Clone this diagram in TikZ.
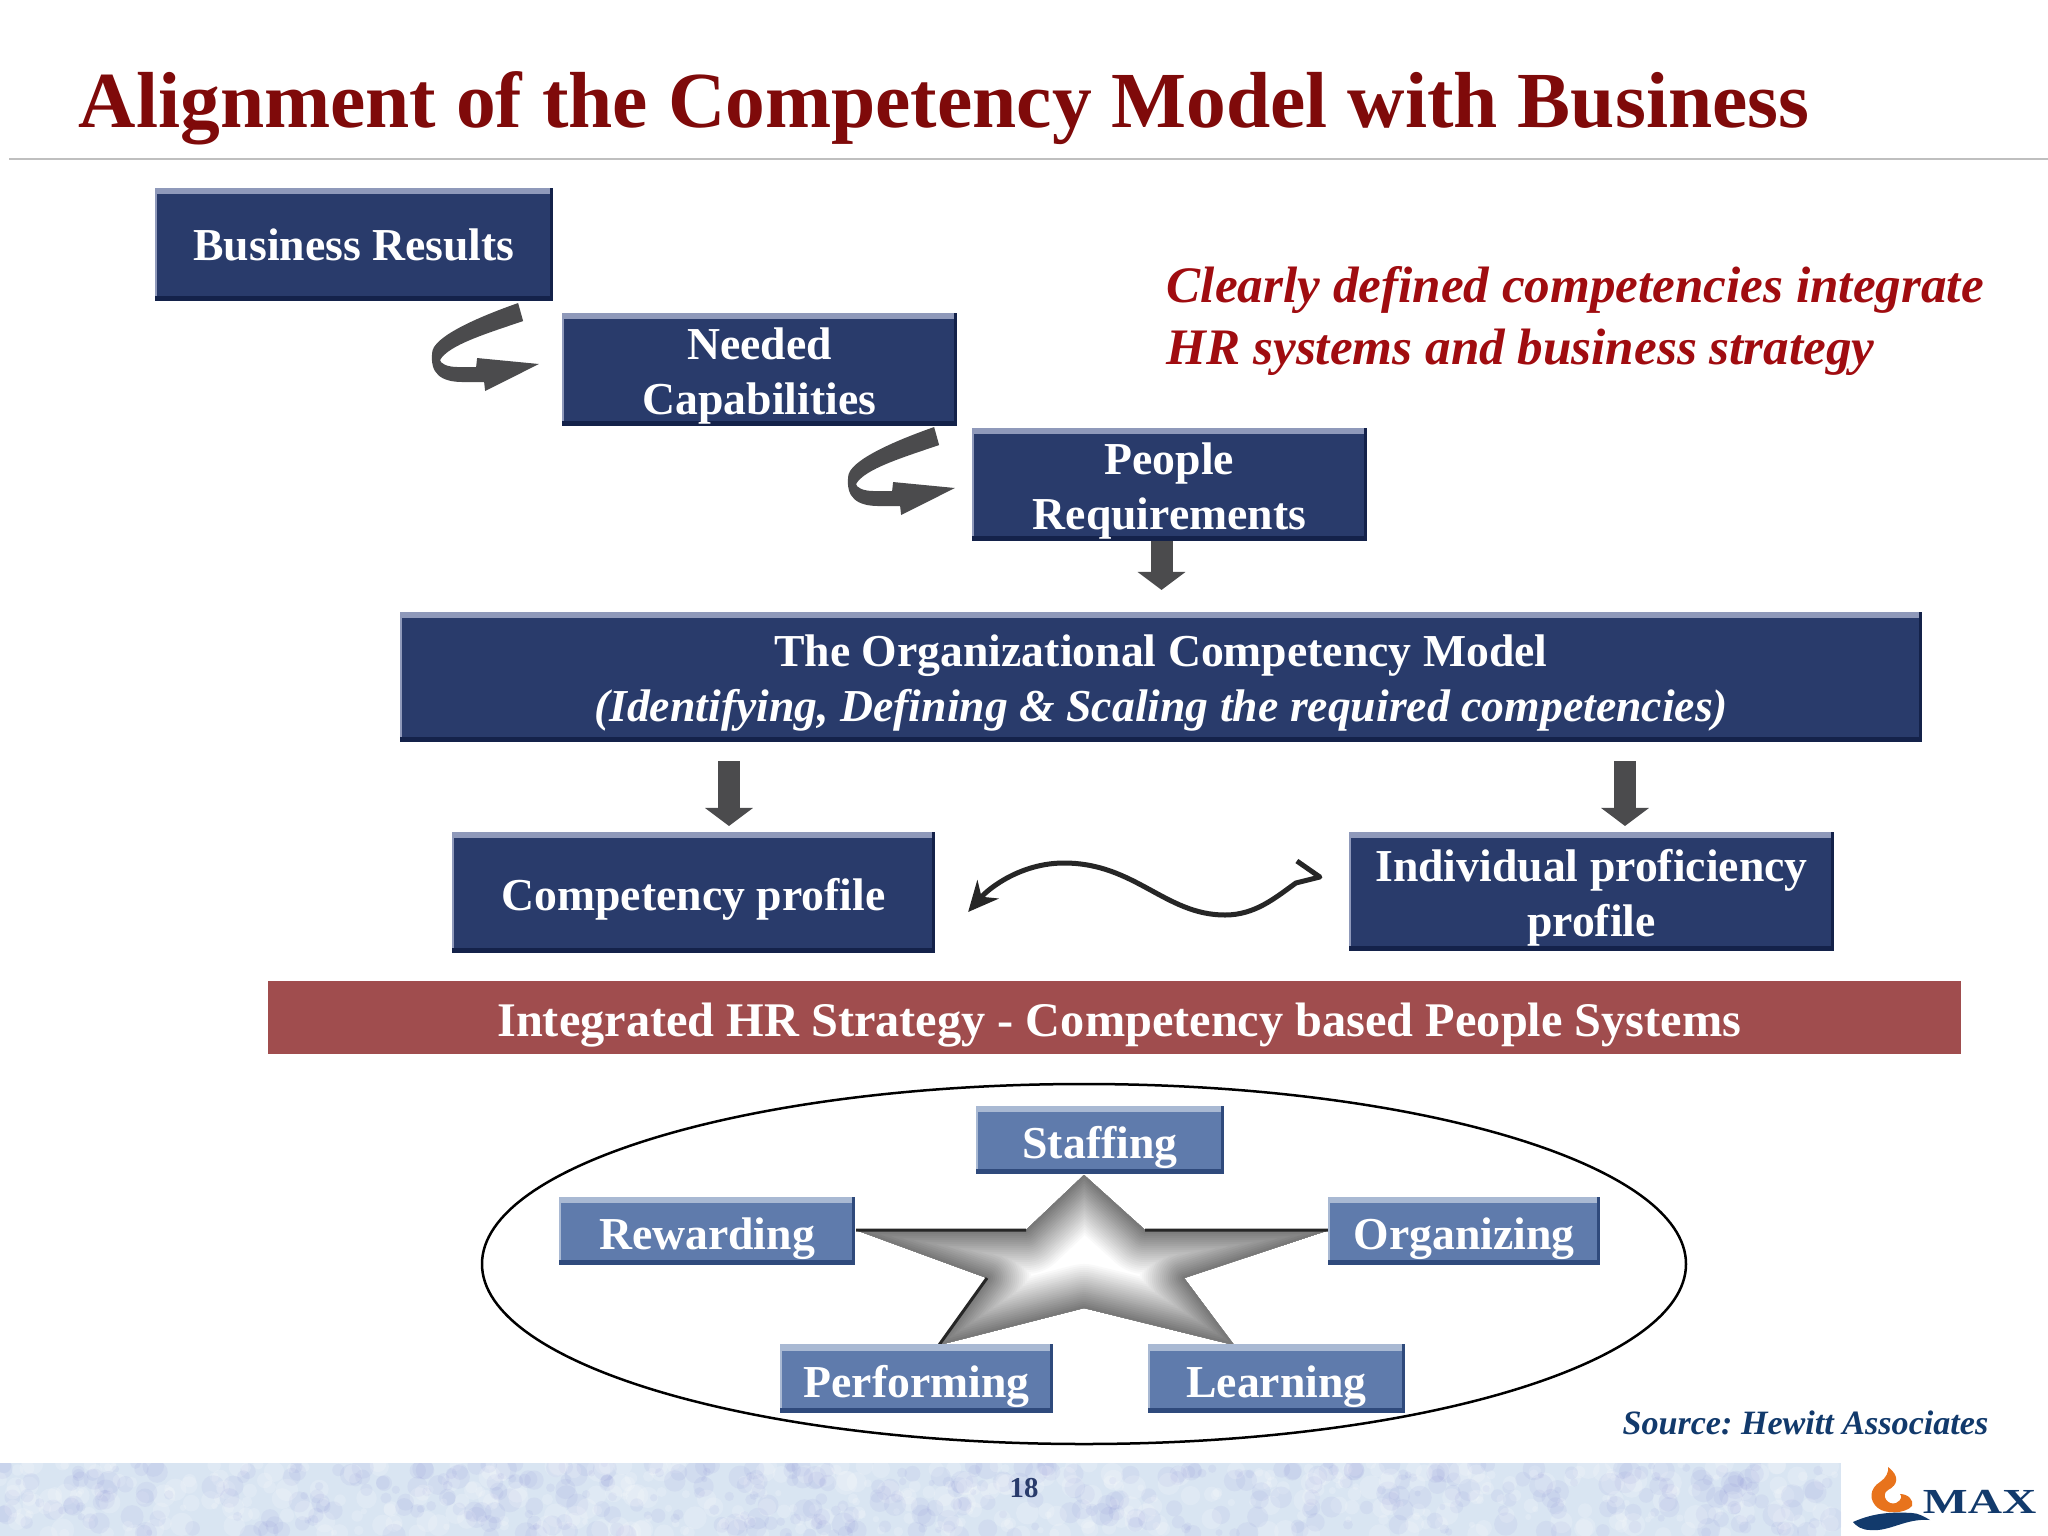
\documentclass[tikz,border=0pt]{standalone}
\usepackage{fontspec}
\setmainfont{Liberation Serif}
\usepackage{xcolor}
\usetikzlibrary{arrows.meta}
\usetikzlibrary{calc}

\definecolor{titlered}{HTML}{7F0A0A}
\definecolor{quotered}{HTML}{A00C10}
\definecolor{navy}{HTML}{293B6B}
\definecolor{navylight}{HTML}{8F99BA}
\definecolor{navydark}{HTML}{14224A}
\definecolor{steel}{HTML}{5F7BAC}
\definecolor{steellight}{HTML}{A9B9D3}
\definecolor{steeldark}{HTML}{2F4A7C}
\definecolor{barred}{HTML}{A04D4E}
\definecolor{arrowgrey}{HTML}{4B4B4D}
\definecolor{footblue}{HTML}{D9E5F2}
\definecolor{sourceblue}{HTML}{123A6C}
\definecolor{flame}{HTML}{E8731C}

\tikzset{
	bevel/.style n args = {2}{path picture = {
		\fill[#1] (path picture bounding box.north west) rectangle ([yshift = -0.06cm]path picture bounding box.north east);
		\fill[#1] (path picture bounding box.north west) rectangle ([xshift = 0.02cm]path picture bounding box.south west);
		\fill[#2] (path picture bounding box.south west) rectangle ([yshift = 0.05cm]path picture bounding box.south east);
		\fill[#2] (path picture bounding box.north east) rectangle ([xshift = -0.03cm]path picture bounding box.south east);
	}},
	textdrop/.style = {execute at begin node = {\rule{0pt}{#1}}},
	boxtext/.style = {text = white, align = center, inner sep = 0pt, outer sep = 0pt, font = \fontsize{13}{15.6}\selectfont\bfseries},
	navybox/.style = {boxtext, fill = navy, bevel = {navylight}{navydark}},
	steelbox/.style = {boxtext, fill = steel, minimum height = 0.68cm, textdrop = 13.4pt, bevel = {steellight}{steeldark}},
	blockarrow/.style = {draw = arrowgrey, line width = 0.22cm, -{Triangle[length = 0.18cm, width = 0.47cm]}}
}

\newcommand{\bentarrow}[2]{
	\begin{scope}[shift = {(#1)}]
		\fill[arrowgrey] (0,0) .. controls (-40,14) and (-86,34) .. (-86,50) .. controls (-88,70) and (-78,79) .. (-55,79) -- (-34,79) -- (-33,88) -- (#2) -- (-41,55) -- (-42,64) -- (-60,64) .. controls (-72,64) and (-78,60) .. (-78,57) .. controls (-70,42) and (-30,30) .. (5,18) -- cycle;
	\end{scope}
}
\newcommand{\starshape}{(-1,-97) -- (-59,-42) -- (-229,-42) -- (-98,6) -- (-146,73) -- (-1,36) -- (149,73) -- (99,6) -- (244,-42) -- (60,-42) -- cycle}

\begin{document}
\begin{tikzpicture}[x = 0.01cm, y = -0.01cm]
	
	\useasboundingbox (0,0) rectangle (2048,1536);
	\fill[white] (0,0) rectangle (2048,1536);
	
	\node[anchor = west, text = titlered, inner sep = 0pt, font = \fontsize{22.6}{27}\selectfont\bfseries] (title) at (78,108.5) {Alignment of the Competency Model with Business};
	\draw[black!25, line width = 0.02cm] (9,159) -- (2048,159);
	
	\node[navybox, minimum width = 3.98cm, minimum height = 1.13cm] (business) at (354,244.5) {Business Results};
	\node[navybox, textdrop = 28.2pt, minimum width = 3.95cm, minimum height = 1.13cm] (needed) at (759.5,369.5) {Needed\\Capabilities};
	\node[navybox, textdrop = 28.2pt, minimum width = 3.95cm, minimum height = 1.13cm] (people) at (1169.5,484.5) {People\\Requirements};
	\node[navybox, textdrop = 28.2pt, minimum width = 15.22cm, minimum height = 1.30cm] (ocm) at (1161,677) {The Organizational Competency Model\\\textit{(Identifying, Defining \& Scaling the required competencies)}};
	\node[navybox, textdrop = 13pt, minimum width = 4.83cm, minimum height = 1.21cm] (competency) at (693.5,892.5) {Competency profile};
	\node[navybox, textdrop = 28.2pt, minimum width = 4.85cm, minimum height = 1.19cm] (individual) at (1591.5,891.5) {Individual proficiency\\profile};
	\node[boxtext, fill = barred, minimum width = 16.92cm, minimum height = 0.73cm, font = \fontsize{13.74}{16}\selectfont\bfseries, execute at begin node = {\rule{3pt}{0pt}\rule{0pt}{14pt}}] (strategy) at (1114,1017.5) {Integrated HR Strategy - Competency based People Systems};
	
	\node[anchor = west, align = left, text = quotered, inner sep = 0pt, font = \fontsize{14.55}{17.5}\selectfont\bfseries\itshape] (quote) at (1166,321) {Clearly defined competencies integrate\\HR systems and business strategy};
	
	\coordinate (bendA) at ($(business.south east)+(-35,2)$);
	\coordinate (tipA) at ($(needed.west)+(-23,-5.5)$);
	\coordinate (bendB) at ($(needed.south east)+(-23,1)$);
	\coordinate (tipB) at ($(people.west)+(-17,3.5)$);
	\bentarrow{bendA}{tipA}
	\bentarrow{bendB}{tipB}
	
	\coordinate (peopleout) at ($(people.south)+(-8,0)$);
	\coordinate (ocmleft) at ($(competency.north)+(35.5,0)$);
	\coordinate (ocmright) at ($(individual.north)+(33.5,0)$);
	\draw[blockarrow, shorten > = 0.22cm] (peopleout) -- (peopleout |- ocm.north);
	\draw[blockarrow, shorten < = 0.19cm, shorten > = 0.06cm] (ocmleft |- ocm.south) -- (ocmleft);
	\draw[blockarrow, shorten < = 0.19cm, shorten > = 0.06cm] (ocmright |- ocm.south) -- (ocmright);
	
	\coordinate (waveR) at ($(individual.west)+(-29,-14.5)$);
	\coordinate (waveL) at ($(competency.east)+(33,19.5)$);
	\draw[line width = 0.05cm, color = black!85, line join = round, -{Stealth[length = 0.3cm, width = 0.28cm]}] ($(waveR)+(-23,-16)$) -- (waveR) -- ++(-24,6) .. controls (1275,898) and (1255,915) .. (1225,915) .. controls (1165,915) and (1135,863) .. (1064,863) .. controls (1022,863) and (990,887) .. (waveL);
	
	\draw[black, line width = 0.025cm] (1084,1264) ellipse [x radius = 602, y radius = 180];
	
	\begin{scope}[shift = {(1085,1272)}]
		\fill[white] \starshape;
		\begin{scope}
			\clip \starshape;
			\foreach \d in {46,44,...,2}{
				\pgfmathsetmacro{\w}{100*\d/46}
				\draw[white!\w!black!55, line join = round, line width = 2*\d*0.01cm] \starshape;
			}
		\end{scope}
		\draw[black!85, line width = 0.03cm] (-229,-42) -- (-59,-42) (60,-42) -- (244,-42) (-146,73) -- (-98,6);
	\end{scope}
	
	\node[steelbox, minimum width = 2.48cm] (staffing) at (1100,1140) {Staffing};
	\node[steelbox, minimum width = 2.96cm] (rewarding) at (707,1231) {Rewarding};
	\node[steelbox, minimum width = 2.72cm] (organizing) at (1464,1231) {Organizing};
	\node[steelbox, minimum width = 2.73cm] (performing) at (916.5,1378.5) {Performing};
	\node[steelbox, minimum width = 2.57cm] (learning) at (1276.5,1378.5) {Learning};
	
	\node[anchor = east, text = sourceblue, inner sep = 0pt, font = \fontsize{9.7}{11}\selectfont\bfseries\itshape\frenchspacing] (source) at (1989,1423) {Source: Hewitt Associates};
	
	\fill[footblue] (0,1463) rectangle (1841,1536);
	\begin{scope}
		\clip (0,1463) rectangle (1841,1536);
		\pgfmathsetseed{18}
		\foreach \i in {1,...,900}{
			\pgfmathsetmacro{\px}{1841*rnd}
			\pgfmathsetmacro{\py}{1463+73*rnd}
			\pgfmathsetmacro{\pr}{3+9*rnd}
			\ifodd\i
				\fill[white, opacity = 0.16] (\px,\py) circle [radius = \pr];
			\else
				\fill[blue!50!gray, opacity = 0.05] (\px,\py) circle [radius = \pr];
			\fi
		}
	\end{scope}
	
	\node[text = navy, inner sep = 0pt, font = \fontsize{8.2}{10}\selectfont\bfseries] (page) at (1024,1488) {18};
	
	\fill[flame] (1888,1467) .. controls (1900,1476) and (1898,1485) .. (1888,1490) .. controls (1880,1495) and (1888,1506) .. (1896,1503) .. controls (1902,1500) and (1902,1496) .. (1900,1494) .. controls (1908,1494) and (1914,1500) .. (1912,1506) .. controls (1905,1514) and (1885,1514) .. (1878,1508) .. controls (1868,1500) and (1870,1488) .. (1880,1482) .. controls (1886,1478) and (1889,1472) .. cycle;
	\fill[sourceblue] (1853,1522) .. controls (1875,1512) and (1895,1512) .. (1912,1513) .. controls (1918,1513) and (1925,1517) .. (1930,1520) .. controls (1905,1518) and (1890,1532) .. (1870,1530) .. controls (1862,1530) and (1856,1526) .. (1853,1522) -- cycle;
	\node[anchor = west, text = sourceblue, inner sep = 0pt, xscale = 1.35, font = \fontsize{10}{12}\selectfont\bfseries] (max) at (1922,1502) {MAX};
\end{tikzpicture}
\end{document}
